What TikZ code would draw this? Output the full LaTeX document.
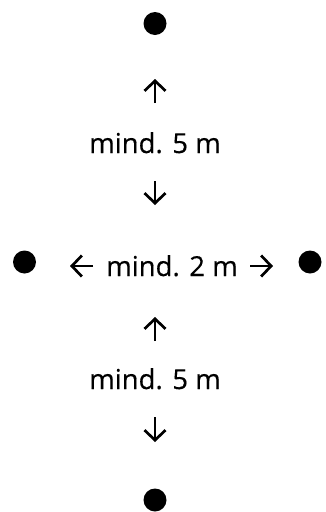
\documentclass[tikz,border=0pt]{standalone}
\usepackage{fontspec}
\setmainfont{Open Sans}
\newfontfamily\lblfont{Open Sans}[FakeBold=0.4]
\usetikzlibrary{arrows.meta}
\tikzset{
    dot/.style={circle, fill=black, inner sep=0pt, minimum size=23pt},
    lbl/.style={font=\lblfont\fontsize{27.5}{30}\selectfont, inner sep=0pt, anchor=base},
    arr/.style={line width=2.7pt, -{Straight Barb[length=10pt,width=21pt]}}
}
\begin{document}
\begin{tikzpicture}[x=1pt,y=-1pt]
        \useasboundingbox (0,0) rectangle (325,512);
        % Punkte
        \node[dot] (top) at (155,23.5) {};
        \node[dot] (left) at (24.5,262) {};
        \node[dot] (right) at (310,262) {};
        \node[dot] (bottom) at (155,500) {};
        % Abstaende
        \node[lbl] (distA) at (155,153) {mind. 5 m};
        \node[lbl] (distB) at (172,276) {mind. 2 m};
        \node[lbl] (distC) at (155,389) {mind. 5 m};
        % Pfeile
        \coordinate (upA0) at (155,103);   \coordinate (upA1) at (155,79);
        \coordinate (dnA0) at (155,181);   \coordinate (dnA1) at (155,205);
        \coordinate (upC0) at (155,341);   \coordinate (upC1) at (155,317);
        \coordinate (dnC0) at (155,417);   \coordinate (dnC1) at (155,442);
        \coordinate (lt0) at (93,266);     \coordinate (lt1) at (70,266);
        \coordinate (rt0) at (250,266);    \coordinate (rt1) at (273,266);
        \draw[arr] (upA0) -- (upA1);
        \draw[arr] (dnA0) -- (dnA1);
        \draw[arr] (upC0) -- (upC1);
        \draw[arr] (dnC0) -- (dnC1);
        \draw[arr] (lt0) -- (lt1);
        \draw[arr] (rt0) -- (rt1);
    \end{tikzpicture}
\end{document}
